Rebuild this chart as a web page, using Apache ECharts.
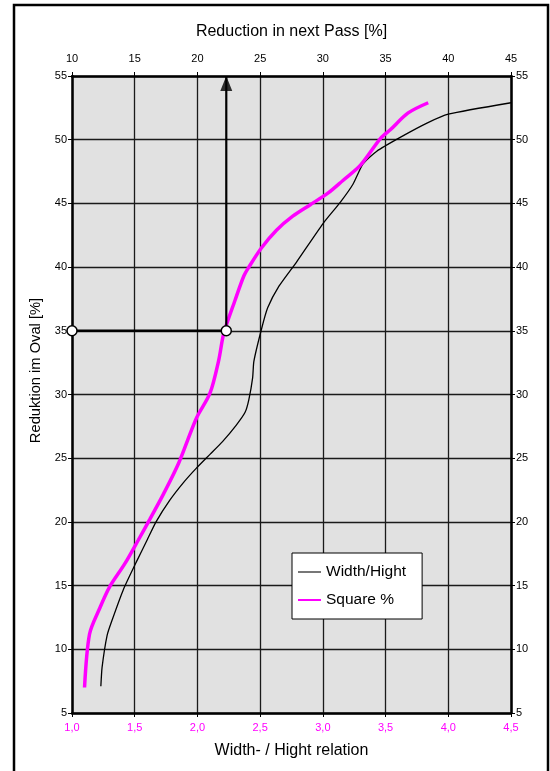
<!DOCTYPE html>
<html>
<head>
<meta charset="utf-8">
<script src="https://cdn.jsdelivr.net/npm/echarts@6/dist/echarts.min.js"></script>
<style>
html,body{margin:0;padding:0;background:#fff;}
#c{width:550px;height:771px;}
</style>
</head>
<body>
<div id="c"></div>
<script>
// Square % (plotted on bottom axis: width/height relation)
const squareX = [1.10, 1.14, 1.22, 1.30, 1.42, 1.53, 1.62, 1.73, 1.85, 1.99, 2.10, 2.17, 2.21, 2.30, 2.37, 2.41, 2.51, 2.63, 2.76, 2.90, 3.04, 3.16, 3.30, 3.46, 3.54, 3.68, 3.84];
const squareY = [7.0, 11.2, 13.2, 14.9, 16.7, 18.6, 20.2, 22.2, 24.6, 28.1, 30.1, 32.7, 34.8, 37.4, 39.3, 40.0, 41.5, 42.9, 44.0, 44.9, 45.8, 46.8, 48.0, 50.1, 50.8, 52.1, 52.9];
// Width/Hight (plotted on top axis: reduction in next pass %)
const whX = [12.3, 12.4, 12.8, 13.2, 14.1, 15.2, 16.0, 16.7, 17.8, 18.9, 19.9, 21.0, 22.0, 23.1, 23.8, 24.1, 24.4, 24.5, 25.1, 25.6, 26.5, 27.9, 30.0, 31.4, 32.4, 33.2, 34.3, 36.2, 38.3, 40.0, 45.0];
const whY = [7.1, 8.6, 11.1, 12.3, 14.7, 17.0, 18.6, 20.0, 21.7, 23.1, 24.2, 25.3, 26.3, 27.6, 28.6, 29.6, 31.3, 32.6, 35.1, 36.8, 38.5, 40.4, 43.4, 45.1, 46.5, 48.1, 49.1, 50.2, 51.3, 52.0, 52.9];
// Annotation
const markX = [1.0, 2.23];
const markY = 35;
const arrowTopY = 55;
// Tick labels
const bottomTicks = ['1,0','1,5','2,0','2,5','3,0','3,5','4,0','4,5'];
const topTicks = ['10','15','20','25','30','35','40','45'];

const squareData = squareX.map((x, i) => [x, squareY[i]]);
const whData = whX.map((x, i) => [x, whY[i]]);

const chart = echarts.init(document.getElementById('c'), null, {renderer: 'canvas'});
const font = 'Liberation Sans, Arial, sans-serif';

const yAxisCommon = {
  type: 'value', min: 5, max: 55, interval: 5,
  axisLine: {show: true, lineStyle: {color: '#000', width: 2.5}},
  axisTick: {show: true, length: 4, lineStyle: {color: '#000', width: 1}},
  axisLabel: {color: '#000', fontSize: 11, fontFamily: font, margin: 5}
};

chart.setOption({
  animation: false,
  backgroundColor: '#fff',
  grid: {left: 72, right: 39, top: 76, bottom: 58, show: true, backgroundColor: '#e1e1e1', borderWidth: 0},
  xAxis: [
    {
      type: 'value', position: 'bottom', min: 1.0, max: 4.5, interval: 0.5,
      name: 'Width- / Hight relation', nameLocation: 'middle', nameGap: 30,
      nameTextStyle: {color: '#000', fontSize: 16, fontFamily: font},
      axisLine: {show: true, onZero: false, lineStyle: {color: '#000', width: 2.5}},
      axisTick: {show: true, length: 4, lineStyle: {color: '#000'}},
      axisLabel: {color: '#ff00ff', fontSize: 11, fontFamily: font, margin: 9,
        formatter: (v) => bottomTicks[Math.round((v - 1.0) / 0.5)]},
      splitLine: {show: true, lineStyle: {color: '#1a1a1a', width: 1.3}}
    },
    {
      type: 'value', position: 'top', min: 10, max: 45, interval: 5,
      name: 'Reduction in next Pass [%]', nameLocation: 'middle', nameGap: 36,
      nameTextStyle: {color: '#000', fontSize: 16, fontFamily: font},
      axisLine: {show: true, onZero: false, lineStyle: {color: '#000', width: 2.5}},
      axisTick: {show: true, length: 4, lineStyle: {color: '#000'}},
      axisLabel: {color: '#000', fontSize: 11, fontFamily: font, margin: 12,
        formatter: (v) => topTicks[Math.round((v - 10) / 5)]},
      splitLine: {show: false}
    }
  ],
  yAxis: [
    Object.assign({}, yAxisCommon, {
      position: 'left',
      name: 'Reduktion im Oval [%]', nameLocation: 'middle', nameGap: 27, nameRotate: 90,
      nameTextStyle: {color: '#000', fontSize: 14.7, fontFamily: font, padding: [0, 0, 0, 48]},
      splitLine: {show: true, lineStyle: {color: '#1a1a1a', width: 1.3}}
    }),
    Object.assign({}, yAxisCommon, {
      position: 'right',
      splitLine: {show: false}
    })
  ],
  legend: {
    orient: 'vertical', left: 292, top: 553,
    backgroundColor: '#fff', borderColor: '#000', borderWidth: 1,
    padding: [11, 16, 11, 6], itemGap: 12,
    itemWidth: 23, itemHeight: 2, icon: 'rect',
    textStyle: {color: '#000', fontSize: 15.5, fontFamily: font},
    data: [
      {name: 'Width/Hight', itemStyle: {color: '#777'}},
      {name: 'Square %', itemStyle: {color: '#ff00ff'}}
    ]
  },
  series: [
    {
      name: 'Width/Hight', type: 'line', xAxisIndex: 1, yAxisIndex: 0,
      data: whData, showSymbol: false, symbol: 'none', smooth: 0.2,
      lineStyle: {color: '#000', width: 1.3}, itemStyle: {color: '#000'}, z: 3
    },
    {
      name: 'Square %', type: 'line', xAxisIndex: 0, yAxisIndex: 0,
      data: squareData, showSymbol: false, symbol: 'none', smooth: 0.3,
      lineStyle: {color: '#ff00ff', width: 3.5}, itemStyle: {color: '#ff00ff'}, z: 4
    },
    {
      name: 'vline', type: 'line', xAxisIndex: 0, yAxisIndex: 0,
      data: [[markX[1], markY], [markX[1], arrowTopY]], symbol: 'none',
      lineStyle: {color: '#000', width: 2.2}, z: 5, silent: true
    },
    {
      name: 'arrow', type: 'scatter', xAxisIndex: 0, yAxisIndex: 0,
      data: [[markX[1], arrowTopY]], symbol: 'triangle', symbolSize: [12, 15], symbolOffset: [0, 7.5],
      itemStyle: {color: '#000'}, z: 6, silent: true
    },
    {
      name: 'hline', type: 'line', xAxisIndex: 0, yAxisIndex: 0,
      data: markX.map(x => [x, markY]), symbol: 'circle', symbolSize: 10, showSymbol: true,
      lineStyle: {color: '#000', width: 2.5},
      itemStyle: {color: '#fff', borderColor: '#000', borderWidth: 1.5}, z: 7, silent: true
    }
  ],
  graphic: [
    {type: 'rect', shape: {x: 14, y: 5, width: 534, height: 780}, style: {fill: 'none', stroke: '#000', lineWidth: 2.5}, z: 100, silent: true}
  ]
});
</script>
</body>
</html>
